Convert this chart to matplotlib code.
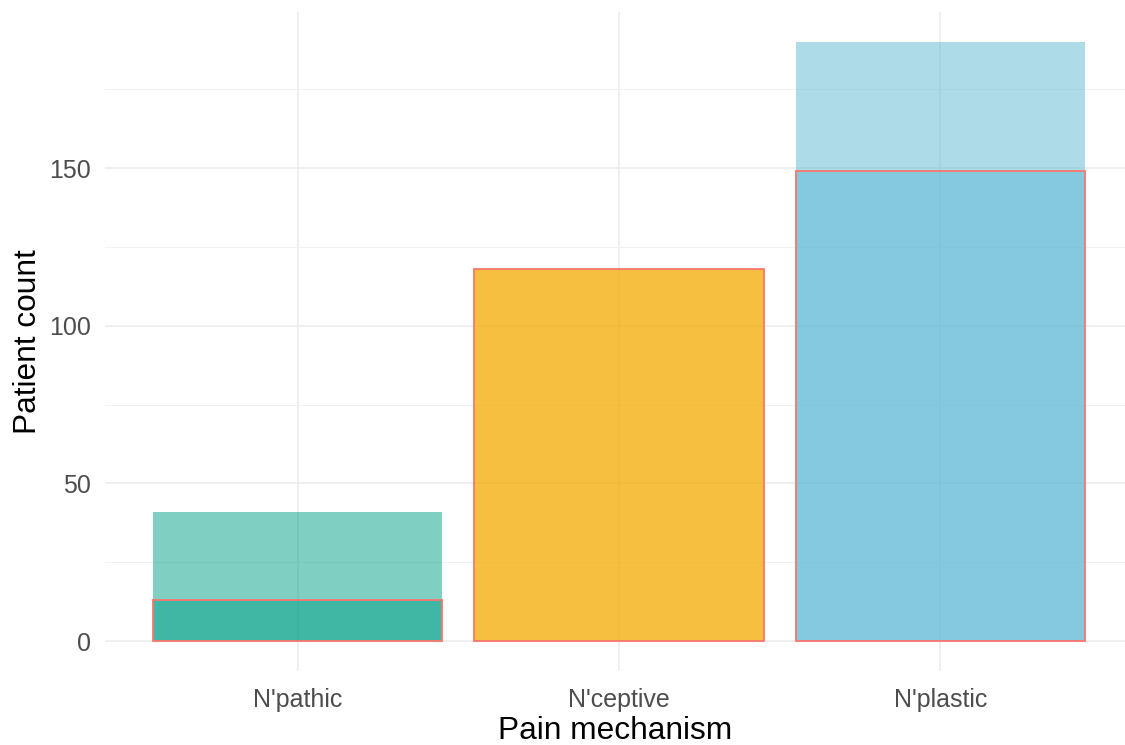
import matplotlib
matplotlib.use("Agg")
import matplotlib.pyplot as plt
from matplotlib.ticker import MultipleLocator

categories = ["N'pathic", "N'ceptive", "N'plastic"]
total_counts = [41, 118, 190]
subset_counts = [13, 118, 149]
colors = ["#00A087", "#F4AB00", "#5DB9D3"]
outline = "#F8766D"

plt.rcParams['font.family'] = ['Liberation Sans', 'DejaVu Sans']

fig = plt.figure(figsize=(11.25, 7.45), dpi=100)
ax = fig.add_axes([105/1125, 1 - 671/745, 1 - 105/1125, (671 - 12)/745])

x = list(range(len(categories)))
ax.bar(x, total_counts, width=0.9, color=colors, alpha=0.5, linewidth=0, zorder=2)
ax.bar(x, subset_counts, width=0.9, color=colors, alpha=0.5, linewidth=0, zorder=3)
ax.bar(x, subset_counts, width=0.9, fill=False, edgecolor=outline, linewidth=1.3, zorder=4)

ax.set_xlim(-0.6, 2.575)
ax.set_ylim(-9.5, 199.5)
ax.set_xticks(x)
ax.set_xticklabels(categories)
ax.yaxis.set_major_locator(MultipleLocator(50))
ax.yaxis.set_minor_locator(MultipleLocator(25))

ax.grid(True, which='major', color='#EBEBEB', linewidth=1.1, zorder=0)
ax.grid(True, which='minor', axis='y', color='#F2F2F2', linewidth=0.7, zorder=0)
ax.set_axisbelow(True)
for s in ax.spines.values():
    s.set_visible(False)
ax.tick_params(which='both', length=0)
ax.tick_params(axis='both', labelsize=18, labelcolor='#4D4D4D')
ax.tick_params(axis='x', pad=12)
ax.tick_params(axis='y', pad=10)

ax.set_xlabel("Pain mechanism", fontsize=22.75, color='black', labelpad=3)
ax.set_ylabel("Patient count", fontsize=22.75, color='black', labelpad=4.5)

fig.savefig("out.png", dpi=100)
